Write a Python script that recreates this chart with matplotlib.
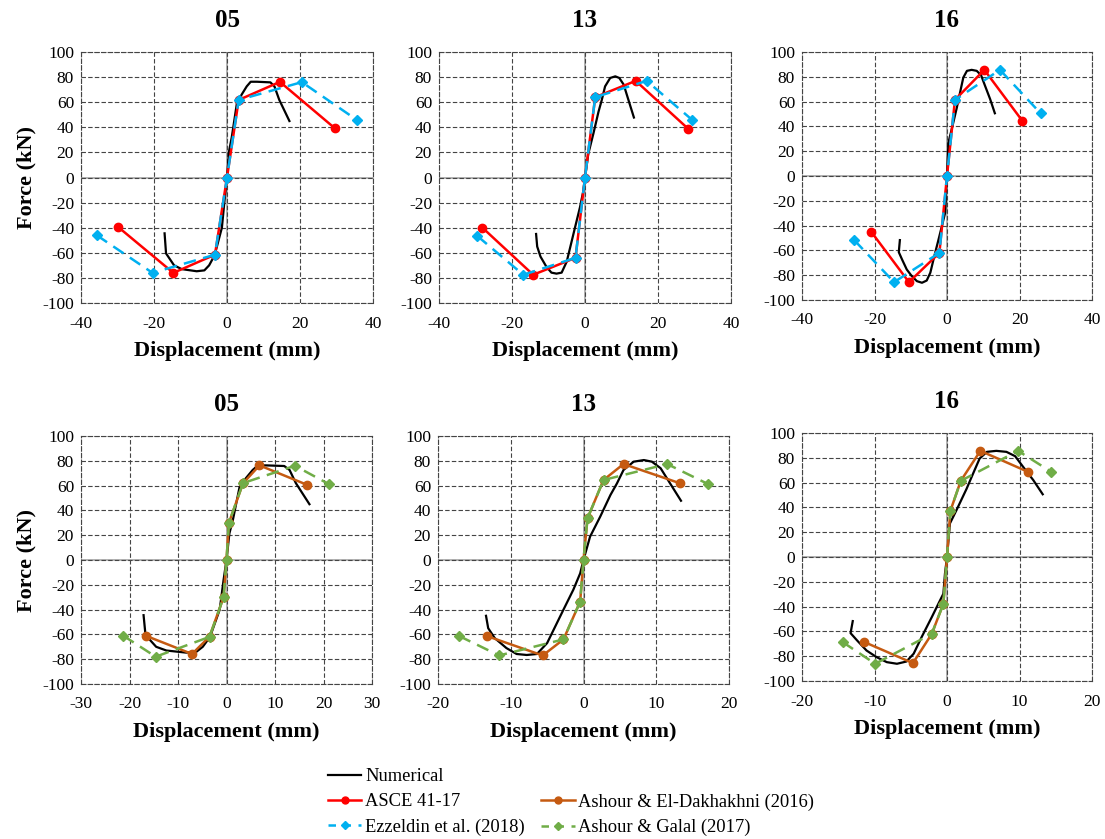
import matplotlib
matplotlib.use('Agg')
import matplotlib.pyplot as plt
from matplotlib.lines import Line2D

plt.rcParams['font.family'] = 'Liberation Serif'
plt.rcParams['axes.unicode_minus'] = False

# specimen names
specimens = ['05', '13', '16']

# numerical curves (displacement mm, force kN)
num_x = {
    '05': [-17.1, -16.7, -14.5, -12.4, -8.3, -6.2, -4.9, -3.4, -1.4, -0.6, 0, 0.6, 1.3, 2.7, 4.0, 5.4, 6.5, 8.2, 11.9, 13.0, 14.3, 17.1],
    '13': [-13.4, -13.1, -12.2, -10.6, -9.2, -7.8, -6.4, -5.0, -3.9, -2.75, -1.4, -0.46, 0, 0.9, 2.3, 3.7, 4.6, 5.5, 6.9, 8.3, 9.4, 10.6, 11.9, 13.4],
    '16': [-13.0, -13.3, -12.4, -11.1, -9.7, -8.3, -6.9, -5.6, -4.6, -3.5, -2.1, -0.96, -0.5, -0.28, 0, 0.4, 1.3, 2.7, 3.6, 4.5, 5.5, 6.8, 8.2, 9.4, 10.5, 11.9, 13.2],
}
num_y = {
    '05': [-44.5, -60.5, -70, -73, -74.7, -74, -70, -62, -40, -16, 0, 21.5, 32, 59, 66, 72.6, 76.3, 76.3, 75.8, 72.6, 62, 45],
    '13': [-45, -55, -63, -71, -75.8, -76.6, -75.8, -67, -53.8, -40, -24, -10.8, 0, 18.8, 35, 52.4, 61.8, 72.6, 79.3, 80.6, 79.3, 74, 61.8, 47.8],
    '16': [-51.7, -61.4, -67.3, -75.4, -80.8, -84.8, -86.1, -84.3, -78, -64.6, -48.5, -35, -29.6, -13.5, 0, 27, 37.7, 55, 67.3, 79.4, 84.8, 85.6, 84.8, 81.3, 72.7, 62, 50.6],
}

# ASCE 41-17
asce_x = {'05': [-29.8, -14.7, -3.3, 0, 3.2, 14.5, 29.6],
          '13': [-28.1, -14.2, -2.6, 0, 2.8, 13.9, 28.2],
          '16': [-20.9, -10.5, -2.1, 0, 2.2, 10.3, 20.8]}
asce_y = {'05': [-39.5, -76, -61.5, 0, 61.8, 76.2, 39.1],
          '13': [-40, -77.5, -64, 0, 64, 77, 39],
          '16': [-45, -85.6, -62, 0, 61.4, 85.6, 44.4]}

# Ezzeldin et al. (2018)
ezz_x = {'05': [-35.7, -20.4, -3.3, 0, 3.2, 20.5, 35.6],
         '13': [-29.5, -16.9, -2.6, 0, 2.8, 16.9, 29.4],
         '16': [-25.6, -14.6, -2.1, 0, 2.2, 14.6, 25.8]}
ezz_y = {'05': [-46, -76, -61.5, 0, 61.8, 76, 45.8],
         '13': [-46.6, -77.5, -64, 0, 64, 77, 45.8],
         '16': [-51.7, -85.6, -62, 0, 61.4, 85.6, 50.6]}

# Ashour & El-Dakhakhni (2016)
ael_x = {'05': [-16.7, -7.1, -3.5, -0.6, 0, 0.5, 3.4, 6.8, 16.5],
         '13': [-13.3, -5.6, -2.75, -0.46, 0, 0.55, 2.75, 5.5, 13.3],
         '16': [-11.4, -4.7, -2.1, -0.5, 0, 0.46, 1.9, 4.6, 11.2]}
ael_y = {'05': [-61, -75.8, -61.8, -30, 0, 30, 61.8, 76.3, 60.8],
         '13': [-61.3, -77, -64, -33.6, 0, 33.6, 64.5, 77.4, 61.8],
         '16': [-68.6, -85.6, -62, -37.7, 0, 37.1, 61.4, 85.6, 68.6]}

# Ashour & Galal (2017)
ag_x = {'05': [-21.3, -14.6, -3.5, -0.6, 0, 0.5, 3.4, 14.1, 21.2],
        '13': [-17.1, -11.6, -2.75, -0.46, 0, 0.55, 2.75, 11.5, 17.1],
        '16': [-14.4, -9.9, -2.1, -0.5, 0, 0.46, 1.9, 9.8, 14.4]}
ag_y = {'05': [-61, -78, -62, -30, 0, 30, 62, 76, 61],
        '13': [-61.3, -77, -64, -33.6, 0, 33.6, 64.5, 77.4, 61.3],
        '16': [-68.6, -86.1, -62, -37.7, 0, 37.1, 61.4, 85.6, 68.6]}

top_xlim = {'05': (-40, 40), '13': (-40, 40), '16': (-40, 40)}
bot_xlim = {'05': (-30, 30), '13': (-20, 20), '16': (-20, 20)}
bot_xstep = {'05': 10, '13': 10, '16': 10}

red = '#FF0000'
blue = '#00B0F0'
orange = '#C55A11'
green = '#70AD47'

W, H = 1105, 839
fig = plt.figure(figsize=(W / 100, H / 100), dpi=100)

# axes boxes in pixels: left, top, right, bottom
top_boxes = [(81, 52, 373, 303), (439, 52, 731, 303), (802, 52, 1092, 300)]
bot_boxes = [(81, 436, 372, 684), (438, 436, 729, 684), (802, 433, 1092, 681)]


def make_ax(box):
    l, t, r, b = box
    return fig.add_axes([l / W, 1 - b / H, (r - l) / W, (b - t) / H])


def style_ax(ax, xlim, xstep, name, ylabel):
    ax.set_xlim(*xlim)
    ax.set_ylim(-100, 100)
    ax.set_xticks(range(xlim[0], xlim[1] + 1, xstep))
    ax.set_yticks(range(-100, 101, 20))
    ax.grid(True, color='#444444', linestyle=(0, (4, 2)), linewidth=0.8)
    ax.axhline(0, color='#A6A6A6', linewidth=1.2, zorder=1.5)
    ax.axvline(0, color='#A6A6A6', linewidth=1.2, zorder=1.5)
    for s in ax.spines.values():
        s.set_linestyle((0, (4, 2)))
        s.set_color('#444444')
        s.set_linewidth(0.8)
    ax.tick_params(length=0, labelsize=12.5)
    ax.tick_params(axis='x', pad=9)
    ax.tick_params(axis='y', pad=5)
    ax.set_title(name, fontsize=18, fontweight='bold', pad=18)
    ax.set_xlabel('Displacement (mm)', fontsize=16, fontweight='bold', labelpad=7)
    if ylabel:
        ax.set_ylabel('Force (kN)', fontsize=16, fontweight='bold', labelpad=4)


for i, sp in enumerate(specimens):
    # top row: ASCE / Ezzeldin
    ax = make_ax(top_boxes[i])
    style_ax(ax, top_xlim[sp], 20, sp, i == 0)
    ax.plot(num_x[sp], num_y[sp], color='black', linewidth=1.6, zorder=3)
    ax.plot(asce_x[sp], asce_y[sp], color=red, linewidth=1.8, marker='o', markersize=6, zorder=4)
    ax.plot(ezz_x[sp], ezz_y[sp], color=blue, linewidth=1.8, linestyle=(0, (5, 3)),
            marker='D', markersize=5, zorder=5)

    # bottom row: Ashour models
    ax = make_ax(bot_boxes[i])
    style_ax(ax, bot_xlim[sp], bot_xstep[sp], sp, i == 0)
    ax.plot(num_x[sp], num_y[sp], color='black', linewidth=1.6, zorder=3)
    ax.plot(ael_x[sp], ael_y[sp], color=orange, linewidth=1.8, marker='o', markersize=6, zorder=4)
    ax.plot(ag_x[sp], ag_y[sp], color=green, linewidth=1.8, linestyle=(0, (5, 3)),
            marker='D', markersize=5, zorder=5)

handles = [
    Line2D([], [], color='black', linewidth=1.6),
    Line2D([], [], color=red, linewidth=1.8, marker='o', markersize=5),
    Line2D([], [], color=blue, linewidth=1.8, linestyle=(0, (3, 3)), marker='D', markersize=4),
    Line2D([], [], color='none'),
    Line2D([], [], color=orange, linewidth=1.8, marker='o', markersize=5),
    Line2D([], [], color=green, linewidth=1.8, linestyle=(0, (3, 3)), marker='D', markersize=4),
]
labels = ['Numerical', 'ASCE 41-17', 'Ezzeldin et al. (2018)', '',
          'Ashour & El-Dakhakhni (2016)', 'Ashour & Galal (2017)']
fig.legend(handles, labels, loc='upper left', bbox_to_anchor=(328 / W, 1 - 768 / H),
           ncol=2, frameon=False, fontsize=13.3, handlelength=1.8, handletextpad=0.2,
           columnspacing=0.9, labelspacing=0.45, borderpad=0, borderaxespad=0)

fig.savefig('out.png', dpi=100)
